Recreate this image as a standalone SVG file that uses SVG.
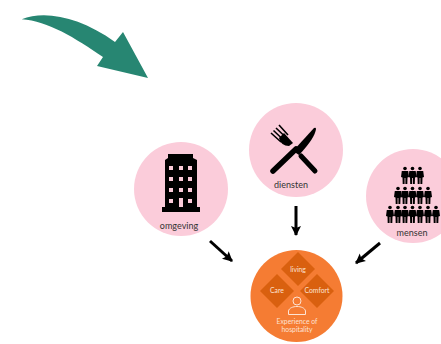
<svg xmlns="http://www.w3.org/2000/svg" width="441" height="344" viewBox="0 0 441 344">
<style>
.pink{fill:#fbccda}
.lbl{font-family:"Lato","Open Sans",sans-serif;font-size:9px;fill:#333;text-anchor:middle}
.in{font-family:"Lato","Open Sans",sans-serif;font-size:6.800px;fill:#fde3d3;text-anchor:middle}
.dia{fill:#d9600f}
.conn{stroke:#000;stroke-width:3;fill:none;marker-end:url(#ah)}
</style>
<defs>
<marker id="ah" markerUnits="userSpaceOnUse" markerWidth="11" markerHeight="11" refX="9" refY="5" orient="auto"><path d="M0 0L10 5L0 10L2 5Z" fill="#000"/></marker>
<symbol id="p" overflow="visible"><circle cx="0" cy="-6.500" r="1.800" fill="#000"/><path d="M-3.200 -4H3.200L4 2L2.500 2.500L2.300 9H0.400V3H-0.400V9H-2.300L-2.500 2.500L-4 2Z" fill="#000"/></symbol>
</defs>
<g id="big-arrow"><path d="M21.700 19.300C45 10 80 17 115 42L123 32L148 78L97 66L103 57C75 38 48 21 21.700 19.300Z" fill="#278672"/></g>
<g id="omgeving">
<circle class="pink" cx="181" cy="189" r="47"/>
<path d="M165 207V160L168 158V154H193V158L197 160V207H200V212H162V207Z" fill="#000"/>
<g class="pink"><rect x="169" y="166" width="4" height="4"/><rect x="179" y="166" width="4" height="4"/><rect x="188" y="166" width="4" height="4"/><rect x="169" y="177" width="4" height="4"/><rect x="179" y="177" width="4" height="4"/><rect x="188" y="177" width="4" height="4"/><rect x="169" y="188" width="4" height="4"/><rect x="179" y="188" width="4" height="4"/><rect x="188" y="188" width="4" height="4"/><rect x="169" y="199" width="4" height="4"/><rect x="179" y="198" width="4" height="9"/><rect x="188" y="199" width="4" height="4"/></g>
<text class="lbl" x="179" y="229">omgeving</text>
</g>
<g id="diensten">
<circle class="pink" cx="296" cy="150" r="47"/>
<path d="M273 171L296 149" stroke="#000" stroke-width="5.500" stroke-linecap="round" fill="none"/>
<path d="M293 151L314 128Q316 127 316 129Q315 138 299 155Z" fill="#000"/>
<path d="M301 156L315 171" stroke="#000" stroke-width="5" stroke-linecap="round" fill="none"/>
<path d="M279 138Q281 146 289 146L293 143L284 133Z" fill="#000"/>
<path d="M281 142L271 133M283 139.500L273.500 130.500M285.500 137L276 128M288 135L279 125" stroke="#000" stroke-width="1.600" fill="none"/>
<text class="lbl" x="291" y="188">diensten</text>
</g>
<g id="mensen">
<circle class="pink" cx="413" cy="196" r="47"/>
<use href="#p" x="405" y="175"/><use href="#p" x="412.500" y="175"/><use href="#p" x="420" y="175"/>
<use href="#p" x="398" y="195"/><use href="#p" x="405" y="195"/><use href="#p" x="412.500" y="195"/><use href="#p" x="420" y="195"/><use href="#p" x="428" y="195"/>
<use href="#p" x="390" y="214"/><use href="#p" x="398" y="214"/><use href="#p" x="405" y="214"/><use href="#p" x="412.500" y="214"/><use href="#p" x="420" y="214"/><use href="#p" x="428" y="214"/><use href="#p" x="436" y="214"/>
<text class="lbl" x="412" y="236">mensen</text>
</g>
<g id="hospitality">
<circle cx="296.500" cy="296" r="46" fill="#f57c33"/>
<path class="dia" d="M298 252L315 269L298 286L281 269Z"/>
<path class="dia" d="M277 274L294 291L277 308L260 291Z"/>
<path class="dia" d="M317 274L334 291L317 308L300 291Z"/>
<text class="in" x="298" y="272">living</text>
<text class="in" x="277" y="293">Care</text>
<text class="in" x="317" y="293">Comfort</text>
<circle cx="297" cy="301" r="4" fill="none" stroke="#fde3d3" stroke-width="1"/>
<path d="M288.500 314.500V311C289 308 293 306.500 297 306.500C301 306.500 305 308 305.500 311V314.500Z" fill="none" stroke="#fde3d3" stroke-width="1"/>
<text class="in" x="297" y="324">Experience of</text>
<text class="in" x="297" y="332">hospitality</text>
</g>
<g id="connectors">
<path class="conn" d="M296 206V235"/>
<path class="conn" d="M210 241L232 261"/>
<path class="conn" d="M380 243L356 263"/>
</g>
</svg>
